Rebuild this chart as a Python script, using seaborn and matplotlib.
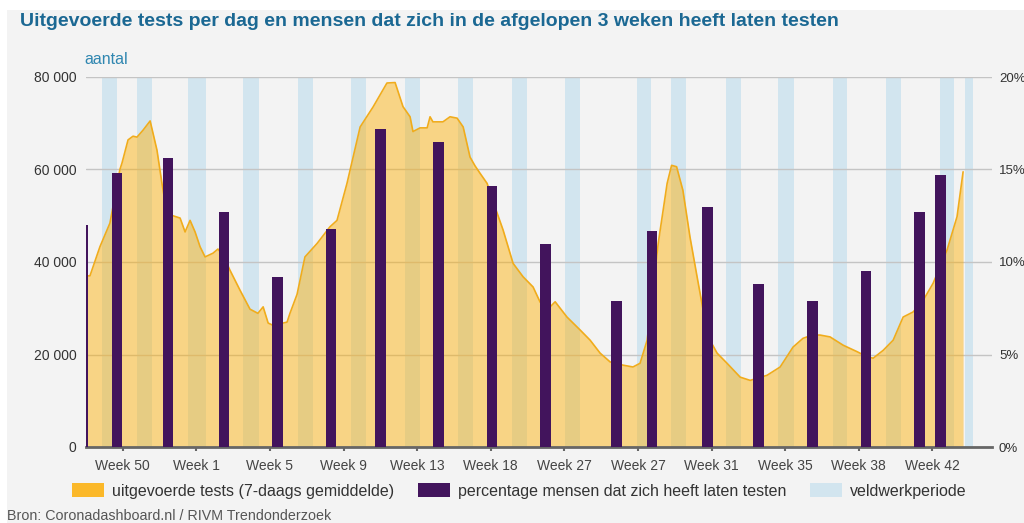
import matplotlib
matplotlib.use("Agg")
import matplotlib.pyplot as plt
from matplotlib.patches import Rectangle, Patch
import seaborn as sns

# ---------------- data ----------------
title = "Uitgevoerde tests per dag en mensen dat zich in de afgelopen 3 weken heeft laten testen"
source = "Bron: Coronadashboard.nl / RIVM Trendonderzoek"
y_label = "aantal"

# 7-day average of performed tests (x = day index along the axis)
test_days = [0.0, 1.5, 5.3, 9.1, 12.9, 13.7, 16.0, 17.9, 19.4, 21.7, 24.4, 27.0, 28.9, 30.8,
             33.1, 35.8, 37.7, 39.6, 41.5, 43.4, 45.3, 48.3, 50.2, 52.1, 54.8, 58.6, 62.4,
             65.4, 67.4, 69.3, 71.2, 75.0, 76.5, 77.6, 80.3, 83.3, 87.9, 92.8, 95.5, 99.3,
             104.3, 109.2, 114.5, 117.6, 120.6, 123.3, 124.4, 127.1, 129.8, 130.9, 132.0,
             135.8, 138.5, 141.2, 143.5, 146.1, 148.0, 149.9, 152.6, 155.6, 158.7, 162.5,
             166.3, 170.1, 172.8, 176.6, 178.5, 183.0, 188.0, 191.8, 195.6, 199.4, 204.3,
             208.1, 210.8, 213.5, 217.7, 221.1, 222.8, 224.7, 227.1, 229.8, 232.5, 234.8,
             237.4, 240.1, 243.9, 248.9, 252.7, 259.1, 264.1, 269.0, 272.8, 276.3, 279.3,
             283.1, 288.1, 293.4, 297.2, 299.5, 303.3, 307.1, 310.9, 314.7, 318.5, 322.3,
             327.6, 331.4, 333.7]
test_values = [37000, 37000, 43300, 48400, 60000, 61400, 66400, 67200, 67000, 68500, 70500,
               64200, 57000, 50500, 50000, 49500, 46500, 49000, 46500, 43300, 41100, 41900,
               42800, 41500, 38200, 33900, 29800, 28900, 30300, 26800, 26300, 26800, 27000,
               28900, 33000, 41100, 44000, 47600, 49000, 57000, 69200, 73500, 78700, 78800,
               73600, 71400, 68200, 69000, 69000, 71400, 70300, 70300, 71400, 71100, 69200,
               62700, 60800, 59200, 57000, 51900, 46900, 39700, 36800, 34600, 31300, 30300,
               31400, 28100, 25300, 23100, 20300, 18400, 17700, 17300, 18100, 23100, 44000,
               57000, 60900, 60600, 55500, 45400, 36800, 29600, 23100, 20300, 18100, 15100,
               14400, 15500, 17300, 21600, 23500, 24200, 24200, 23800, 22000, 20600, 19500,
               19200, 20900, 23100, 28100, 29200, 31700, 35400, 42600, 49800, 59500]

# percentage of people that got tested (survey rounds)
survey_days = [-1.4, 11.8, 31.2, 52.5, 73.0, 93.2, 111.9, 134.0, 154.5, 174.7, 201.9,
               215.3, 236.6, 256.0, 276.4, 296.8, 317.2, 325.0]
survey_pct = [12.0, 14.8, 15.6, 12.7, 9.2, 11.8, 17.2, 16.5, 14.1, 11.0, 7.9,
              11.7, 13.0, 8.8, 7.9, 9.5, 12.7, 14.7]

# fieldwork periods
fieldwork_start = [6.1, 19.4, 38.8, 59.7, 80.7, 100.8, 121.4, 141.6, 162.1, 182.3, 209.7,
                   222.6, 243.5, 263.3, 284.2, 304.4, 325.0, 334.5]
fieldwork_end = [11.8, 25.1, 45.7, 65.8, 86.4, 106.5, 127.1, 147.3, 167.8, 188.0, 215.0,
                 228.3, 249.2, 269.4, 289.6, 310.1, 330.3, 337.5]

week_ticks = [14, 42, 70, 98, 126, 154, 182, 210, 238, 266, 294, 322]
week_labels = ["Week 50", "Week 1", "Week 5", "Week 9", "Week 13", "Week 18",
               "Week 27", "Week 27", "Week 31", "Week 35", "Week 38", "Week 42"]
left_ticks = [0, 20000, 40000, 60000, 80000]
left_labels = ["0", "20 000", "40 000", "60 000", "80 000"]
right_ticks = [0, 5, 10, 15, 20]
right_labels = ["0%", "5%", "10%", "15%", "20%"]
legend_labels = ["uitgevoerde tests (7-daags gemiddelde)",
                 "percentage mensen dat zich heeft laten testen",
                 "veldwerkperiode"]

# ---------------- style ----------------
BG = "#f3f3f3"
BLUE = "#d2e5ef"
FILL = (1.0, 0.686, 0.0)
LINE = "#f0ac1c"
PURPLE = "#42145c"
TITLE_C = "#1b6893"

sns.set_theme(style="white")
plt.rcParams["font.family"] = ["Liberation Sans", "DejaVu Sans"]

W, H = 1024, 523
fig = plt.figure(figsize=(W / 100, H / 100), dpi=100, facecolor="white")
fig.patches.append(Rectangle((7 / W, 0), 1 - 7 / W, 1 - 10 / H, transform=fig.transFigure,
                             facecolor=BG, edgecolor="none", zorder=-10))

ax = fig.add_axes([86 / W, 1 - 447 / H, (992 - 86) / W, 370 / H])
ax.set_facecolor("none")
ax.set_axisbelow(True)

for s, e in zip(fieldwork_start, fieldwork_end):
    ax.axvspan(s, e, color=BLUE, lw=0, zorder=0.2)

ax.fill_between(test_days, test_values, 0, color=FILL, alpha=0.45, lw=0, zorder=1)
sns.lineplot(x=test_days, y=test_values, ax=ax, color=LINE, lw=1.2, zorder=2, sort=False)

ax.set_xlim(0, 344.7)
ax.set_ylim(0, 80000)
ax.set_yticks(left_ticks)
ax.set_yticklabels(left_labels)
ax.set_xticks(week_ticks)
ax.set_xticklabels(week_labels)
ax.set_xlabel("")
ax.set_ylabel("")
ax.yaxis.grid(True, color="#c4c4c4", lw=1)
ax.xaxis.grid(False)
for sp in ["top", "left", "right"]:
    ax.spines[sp].set_visible(False)
ax.spines["bottom"].set_color("#666666")
ax.spines["bottom"].set_linewidth(2)
ax.tick_params(axis="x", bottom=True, direction="out", length=3, width=1.5, color="#666666",
               labelsize=10, labelcolor="#444444", pad=6)
ax.tick_params(axis="y", left=False, length=0, labelsize=10, labelcolor="#333333", pad=7)

ax2 = ax.twinx()
ax2.bar(survey_days, survey_pct, width=4.1, color=PURPLE, edgecolor="none", zorder=3)
ax2.set_ylim(0, 20)
ax2.set_xlim(0, 344.7)
ax2.set_yticks(right_ticks)
ax2.set_yticklabels(right_labels)
ax2.grid(False)
for sp in ax2.spines.values():
    sp.set_visible(False)
ax2.tick_params(axis="y", right=True, length=0, labelsize=9.5, labelcolor="#333333", pad=5)

fig.text(84 / W, 1 - 60 / H, y_label, color="#2f86b0", fontsize=11.5, va="center", ha="left")
fig.text(20 / W, 1 - 22 / H, title, fontsize=14, fontweight="bold", color=TITLE_C,
         va="center", ha="left")
fig.text(7 / W, 1 - 516 / H, source, fontsize=10.3, color="#555555", va="center", ha="left")

handles = [Patch(facecolor="#fbb829", edgecolor="none"),
           Patch(facecolor=PURPLE, edgecolor="none"),
           Patch(facecolor=BLUE, edgecolor="none")]
leg = fig.legend(handles, legend_labels, loc="center left", bbox_to_anchor=(72 / W, 1 - 491 / H),
                 ncol=3, frameon=False, fontsize=11.5, handlelength=2.0, handleheight=1.0,
                 handletextpad=0.5, columnspacing=1.5, borderpad=0, borderaxespad=0)
for t in leg.get_texts():
    t.set_color("#333333")

fig.savefig("out.png", dpi=100, facecolor=fig.get_facecolor())
